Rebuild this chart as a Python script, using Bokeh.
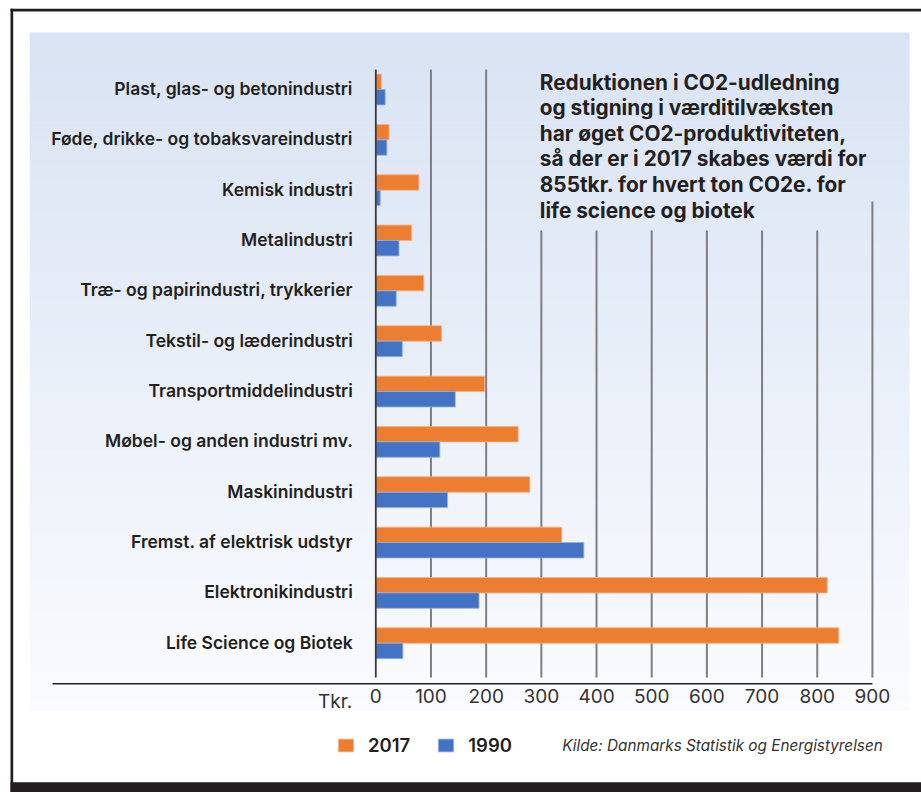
import numpy as np
from bokeh.plotting import figure
from bokeh.models import Range1d, ColumnDataSource, Legend, LegendItem
from bokeh.core.properties import value
from bokeh.embed import file_html
from bokeh.resources import INLINE

# ---------------- data ----------------
categories = [
    "Plast, glas- og betonindustri",
    "Føde, drikke- og tobaksvareindustri",
    "Kemisk industri",
    "Metalindustri",
    "Træ- og papirindustri, trykkerier",
    "Tekstil- og læderindustri",
    "Transportmiddelindustri",
    "Møbel- og anden industri mv.",
    "Maskinindustri",
    "Fremst. af elektrisk udstyr",
    "Elektronikindustri",
    "Life Science og Biotek",
]
values_2017 = [10, 24, 78, 65, 87, 119, 197, 258, 279, 337, 818, 839]
values_1990 = [17, 20, 8, 42, 37, 48, 144, 116, 130, 377, 187, 49]
series_names = ["2017", "1990"]
series_colors = ["#ED7D31", "#4472C4"]
x_ticks = [0, 100, 200, 300, 400, 500, 600, 700, 800, 900]
x_tick_labels = [str(t) for t in x_ticks]
axis_unit = "Tkr."
note_lines = [
    "Reduktionen i CO2-udledning",
    "og stigning i værditilvæksten",
    "har øget CO2-produktiviteten,",
    "så der er i 2017 skabes værdi for",
    "855tkr. for hvert ton CO2e. for",
    "life science og biotek",
]
source_text = "Kilde: Danmarks Statistik og Energistyrelsen"

# ---------------- layout constants (pixels) ----------------
W, H = 921, 792
X0, SX = 375.3, 0.5518      # pixel of value 0, pixels per unit
Y0, SY = 89.0, 50.34        # pixel of first row centre, pixels per row
BAR_H = 0.306

def xd(px):
    return (px - X0) / SX

def yd(py):
    return (py - Y0) / SY

TEXT = "#231f20"
FONT = "Inter"
SEMI = "Inter SemiBold"

p = figure(width=W, height=H,
           x_range=Range1d(xd(0), xd(W)),
           y_range=Range1d(yd(H), yd(0)),
           x_axis_location=None, y_axis_location=None,
           output_backend="svg", toolbar_location=None, min_border=0)
p.grid.visible = False
p.outline_line_color = None
p.background_fill_color = "white"
p.border_fill_color = "white"

# background gradient panel
g_top, g_bot = 32.0, 710.0
n = 68
edges = np.linspace(g_top, g_bot, n + 1)
c0 = np.array([217, 227, 243])
c1 = np.array([250, 251, 254])
cols = []
for i in range(n):
    t = (i + 0.5) / n
    c = (c0 + (c1 - c0) * t).round().astype(int)
    cols.append("#%02x%02x%02x" % tuple(c))
p.quad(left=xd(29.3), right=xd(909), top=[yd(e) for e in edges[:-1]],
       bottom=[yd(e + 0.6) for e in edges[1:]], fill_color=cols, line_color=None)

# frame
p.quad(left=[xd(10), xd(10), xd(10)], right=[xd(930), xd(12.7), xd(930)],
       top=[yd(8.3), yd(8.3), yd(781.7)], bottom=[yd(11), yd(800), yd(800)],
       fill_color="#231f20", line_color=None)

# grid lines
grid_tops = [69, 69, 69, 230, 230, 230, 230, 230, 230, 201]
p.segment(x0=x_ticks[1:], x1=x_ticks[1:], y0=[yd(t) for t in grid_tops[1:]],
          y1=yd(677), line_color="#7d7f84", line_width=2)

# bars
rows = np.arange(len(categories))
src = ColumnDataSource(dict(cat=categories, v2017=values_2017, v1990=values_1990,
                            y2017=rows - BAR_H / 2, y1990=rows + BAR_H / 2))
r17 = p.hbar(y="y2017", left=0, right="v2017", height=BAR_H, source=src,
             fill_color=series_colors[0], line_color="#f6b27f", line_width=0.8)
r90 = p.hbar(y="y1990", left=0, right="v1990", height=BAR_H, source=src,
             fill_color=series_colors[1], line_color="#8fb0e6", line_width=0.8)

# zero line
p.segment(x0=0, x1=0, y0=yd(69), y1=yd(677), line_color="#3a3a3a", line_width=1.8)

# x axis line
p.segment(x0=xd(52), x1=x_ticks[-1], y0=yd(683.3), y1=yd(683.3),
          line_color="#231f20", line_width=1.5)

# category labels
p.text(x=0, y="y", text="cat", source=ColumnDataSource(dict(y=rows, cat=categories)),
       x_offset=-23, y_offset=-1, text_align="right", text_baseline="alphabetic",
       text_font=value(SEMI), text_font_size="17.5px", text_color=TEXT)

# tick labels
p.text(x=x_ticks, y=yd(695), text=x_tick_labels, text_align="center",
       text_baseline="alphabetic", text_font=value(FONT), text_font_size="19px",
       text_color="#333333")
p.text(x=[xd(351.7)], y=[yd(700.5)], text=[axis_unit], text_align="right",
       text_baseline="alphabetic", text_font=value(FONT), text_font_size="19px",
       text_color="#333333")

# note
p.text(x=xd(539.3), y=[yd(81.5 + 25.6 * k) for k in range(len(note_lines))], text=note_lines,
       text_align="left", text_baseline="alphabetic", text_font=value(FONT),
       text_font_style="bold", text_font_size="20.8px", text_color=TEXT)

# source
p.text(x=[xd(561.7)], y=[yd(745)], text=[source_text], text_align="left",
       text_baseline="alphabetic", text_font=value(FONT), text_font_style="italic",
       text_font_size="15.3px", text_color="#333333")

# legend
legend = Legend(items=[LegendItem(label=series_names[0], renderers=[r17]),
                       LegendItem(label=series_names[1], renderers=[r90])],
                orientation="horizontal", location=(336, 36),
                glyph_width=19, glyph_height=16, label_height=16, label_standoff=13,
                spacing=26, padding=0, margin=0,
                background_fill_alpha=0, border_line_color=None,
                label_text_font=SEMI, label_text_font_size="18.5px",
                label_text_color=TEXT)
p.add_layout(legend, "center")

open("out.html", "w").write(file_html(p, INLINE))
